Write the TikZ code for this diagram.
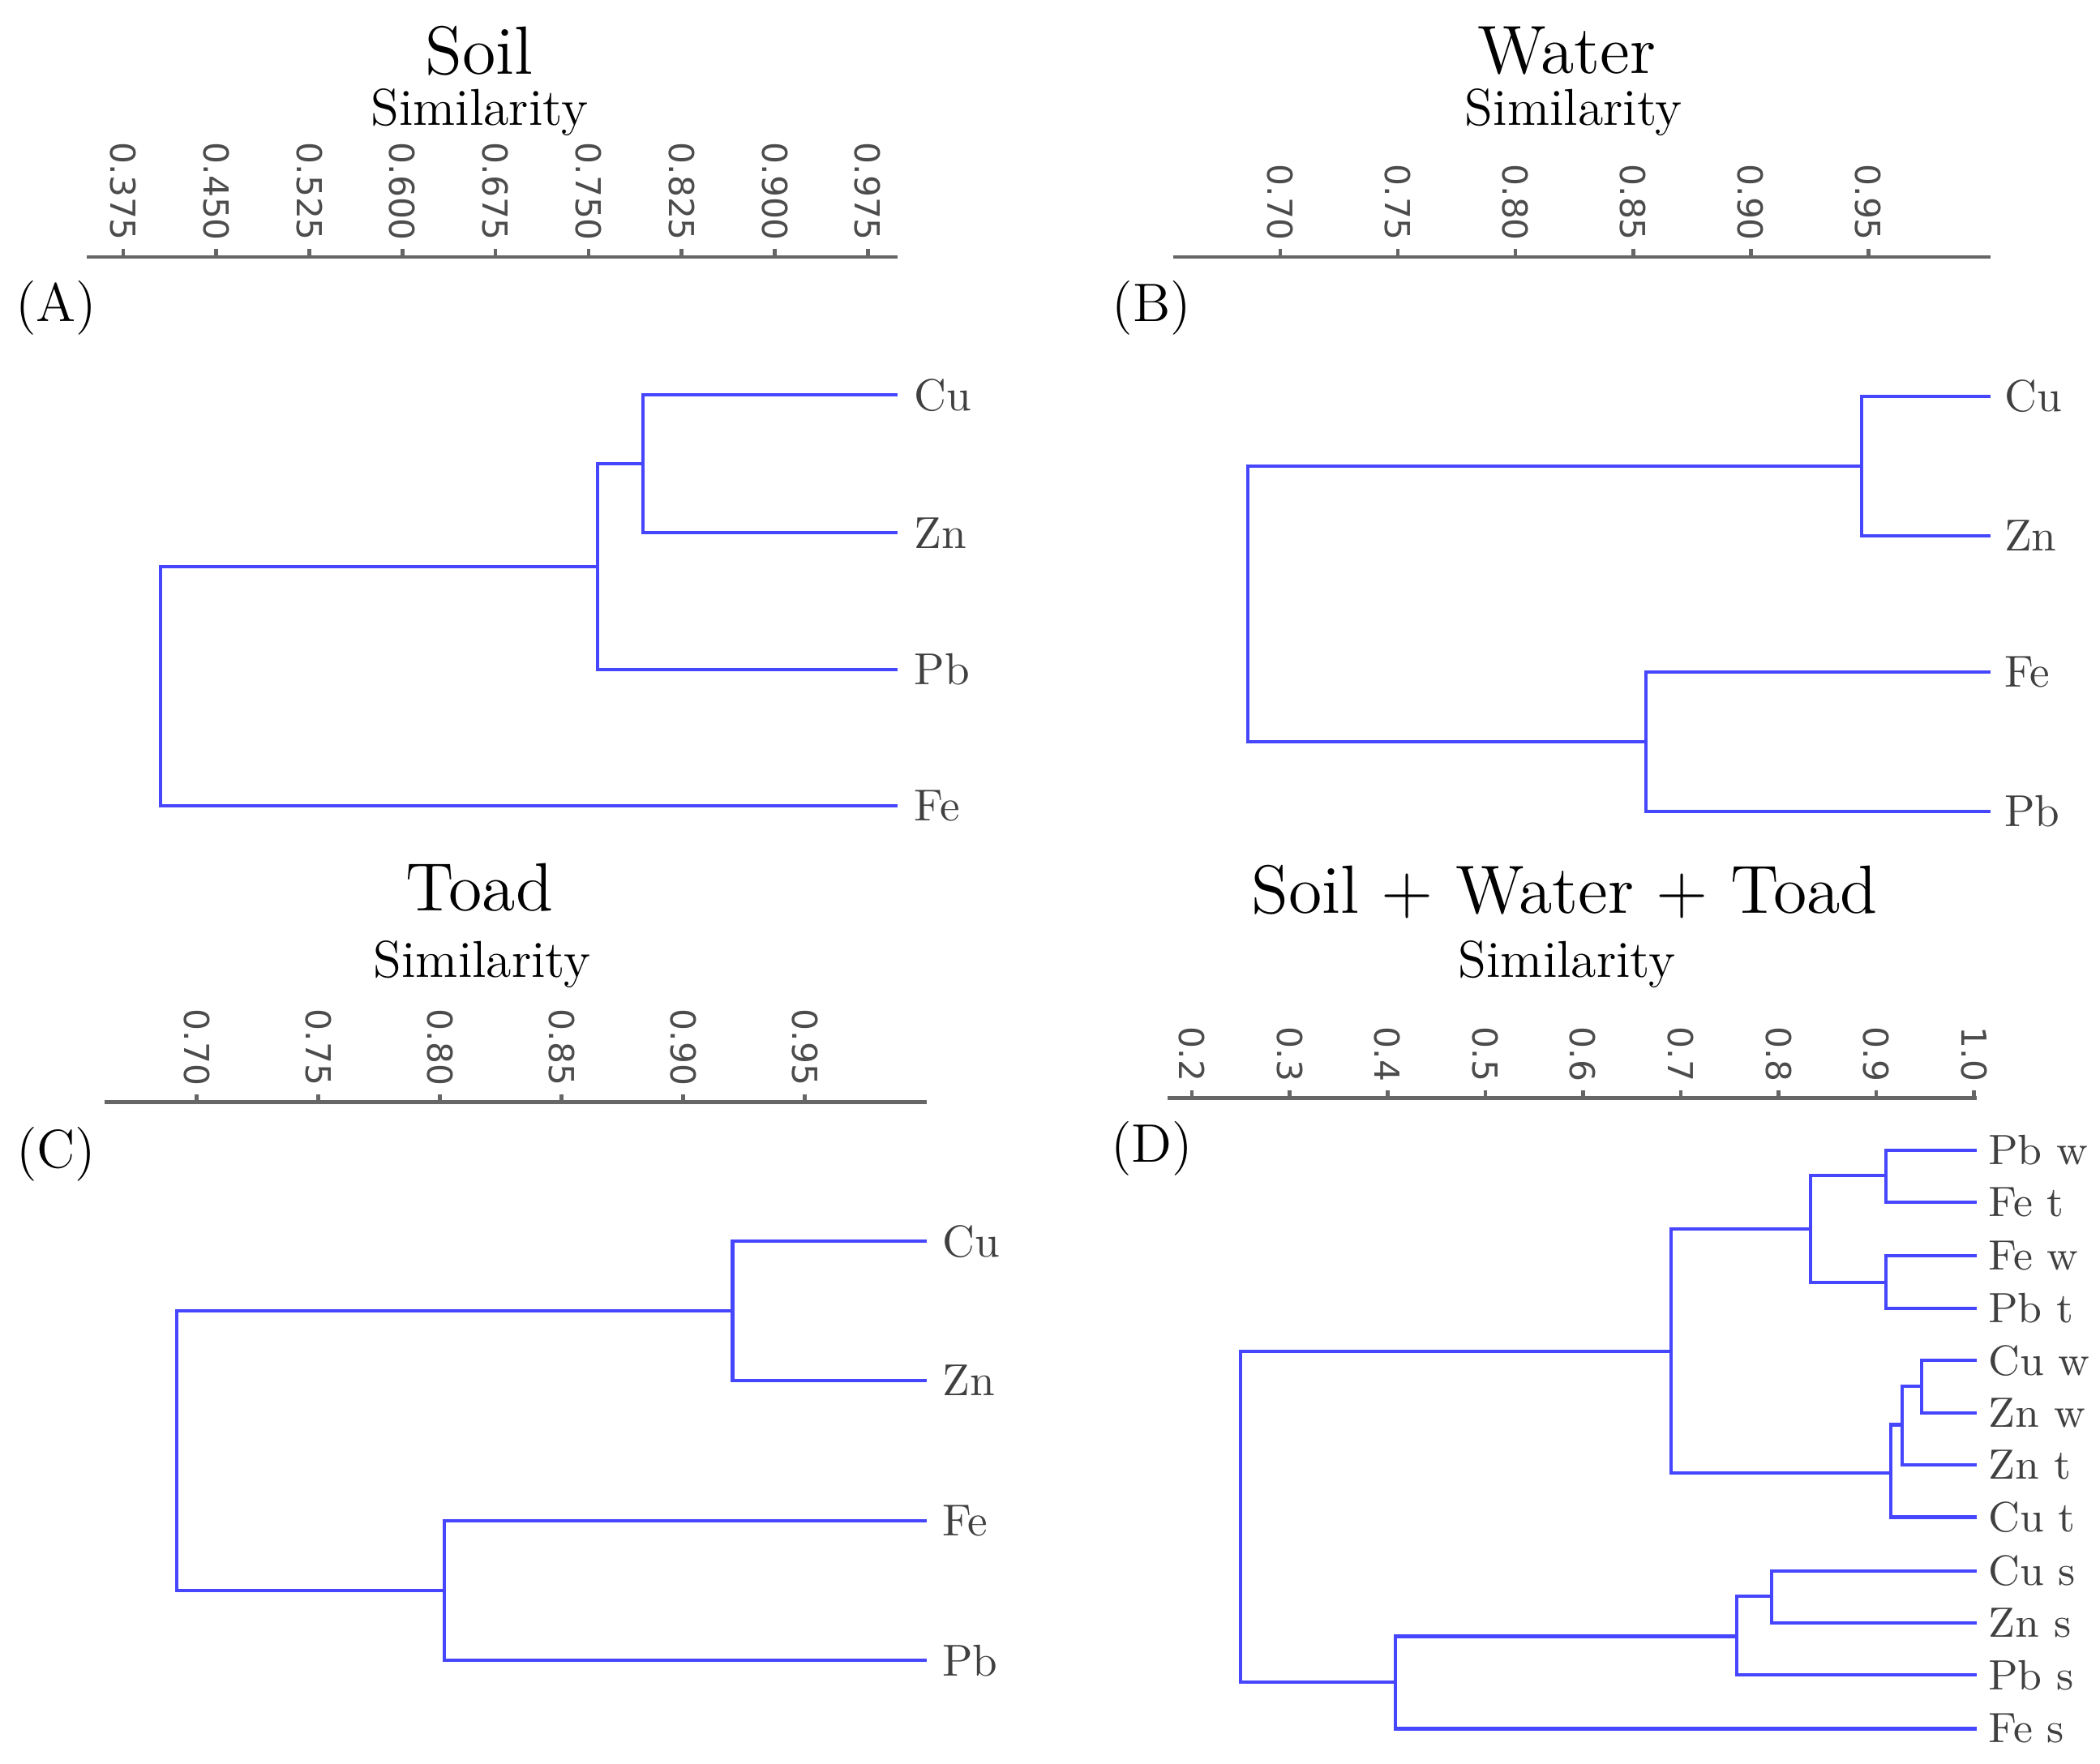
\documentclass[tikz,border=0pt]{standalone}
\usepackage{fontspec}
\newfontfamily\ticksf{DejaVu Sans}
\begin{document}
\begin{tikzpicture}[x=0.01cm,y=-0.01cm,
 br/.style={draw={rgb,255:red,70;green,70;blue,255},line width=0.7pt},
 ax/.style={draw=black!60,line width=0.8pt},
 tl/.style={font=\ticksf\fontsize{7.3}{9}\selectfont,text=black!70,rotate=-90,anchor=east,inner sep=1pt},
 lf/.style={font=\fontsize{9.5}{11}\selectfont,anchor=west,inner sep=0pt,text=black!75},
 lfd/.style={lf,font=\fontsize{9}{11}\selectfont},
 ttl/.style={font=\fontsize{14.5}{17}\selectfont},
 sim/.style={font=\fontsize{11}{13}\selectfont},
 pl/.style={font=\fontsize{11.5}{14}\selectfont}]
\useasboundingbox (0,0) rectangle (1568,1317);
% ---- A
\node[ttl] (tA) at (358,38) {Soil};
\node[sim] (sA) at (358,84) {Similarity};
\node[pl] (pA) at (42,230) {(A)};
\draw[ax] (65,192) -- (670,192);
\foreach \l [count=\i from 0] in {0.375,0.450,0.525,0.600,0.675,0.750,0.825,0.900,0.975}{
 \draw[ax] ({92+69.5*\i},192) -- ({92+69.5*\i},186);
 \node[tl] at ({92+69.5*\i},184) {\l};}
\node[lf] (aCu) at (682,295) {Cu};
\node[lf] (aZn) at (682,398) {Zn};
\node[lf] (aPb) at (682,500) {Pb};
\node[lf] (aFe) at (682,602) {Fe};
\draw[br] (670,295) -| (480,398) -- (670,398);
\draw[br] (480,346) -| (446,500) -- (670,500);
\draw[br] (446,423) -| (120,602) -- (670,602);
% ---- B
\node[ttl] (tB) at (1170,38) {Water};
\node[sim] (sB) at (1175,84) {Similarity};
\node[pl] (pB) at (860,230) {(B)};
\draw[ax] (876,192) -- (1486,192);
\foreach \l [count=\i from 0] in {0.70,0.75,0.80,0.85,0.90,0.95}{
 \draw[ax] ({956+87.8*\i},192) -- ({956+87.8*\i},186);
 \node[tl] at ({956+87.8*\i},184) {\l};}
\node[lf] (bCu) at (1496,296) {Cu};
\node[lf] (bZn) at (1496,400) {Zn};
\node[lf] (bFe) at (1496,502) {Fe};
\node[lf] (bPb) at (1496,606) {Pb};
\draw[br] (1486,296) -| (1390,400) -- (1486,400);
\draw[br] (1486,502) -| (1229,606) -- (1486,606);
\draw[br] (1390,348) -| (932,554) -- (1229,554);
% ---- C
\node[ttl] (tC) at (358,663) {Toad};
\node[sim] (sC) at (360,720) {Similarity};
\node[pl] (pC) at (42,862) {(C)};
\draw[ax] (78,823) -- (692,823);
\foreach \l [count=\i from 0] in {0.70,0.75,0.80,0.85,0.90,0.95}{
 \draw[ax] ({147+90.8*\i},823) -- ({147+90.8*\i},817);
 \node[tl] at ({147+90.8*\i},815) {\l};}
\node[lf] (cCu) at (703,927) {Cu};
\node[lf] (cZn) at (703,1031) {Zn};
\node[lf] (cFe) at (703,1136) {Fe};
\node[lf] (cPb) at (703,1240) {Pb};
\draw[br] (692,927) -| (547,1031) -- (692,1031);
\draw[br] (692,1136) -| (332,1240) -- (692,1240);
\draw[br] (547,979) -| (132,1188) -- (332,1188);
% ---- D
\node[ttl] (tD) at (1168,666) {Soil + Water + Toad};
\node[sim] (sD) at (1170,720) {Similarity};
\node[pl] (pD) at (860,858) {(D)};
\draw[ax] (872,820) -- (1476,820);
\foreach \l [count=\i from 0] in {0.2,0.3,0.4,0.5,0.6,0.7,0.8,0.9,1.0}{
 \draw[ax] ({890+73*\i},820) -- ({890+73*\i},814);
 \node[tl] at ({890+73*\i},812) {\l};}
\foreach \n/\y [count=\k] in {Pb w/859,Fe t/898,Fe w/938,Pb t/977,Cu w/1016,Zn w/1055,Zn t/1094,Cu t/1133,Cu s/1173,Zn s/1212,Pb s/1251,Fe s/1291}{
 \node[lfd] (d\k) at (1484,\y) {\n};}
\draw[br] (1476,859) -| (1408,898) -- (1476,898);
\draw[br] (1476,938) -| (1408,977) -- (1476,977);
\draw[br] (1408,878) -| (1352,958) -- (1408,958);
\draw[br] (1476,1016) -| (1435,1055) -- (1476,1055);
\draw[br] (1435,1035) -| (1420,1094) -- (1476,1094);
\draw[br] (1420,1064) -| (1412,1133) -- (1476,1133);
\draw[br] (1352,918) -| (1248,1100) -- (1412,1100);
\draw[br] (1476,1173) -| (1323,1212) -- (1476,1212);
\draw[br] (1323,1192) -| (1297,1251) -- (1476,1251);
\draw[br] (1297,1222) -| (1042,1291) -- (1476,1291);
\draw[br] (1248,1009) -| (926,1256) -- (1042,1256);
\end{tikzpicture}
\end{document}
